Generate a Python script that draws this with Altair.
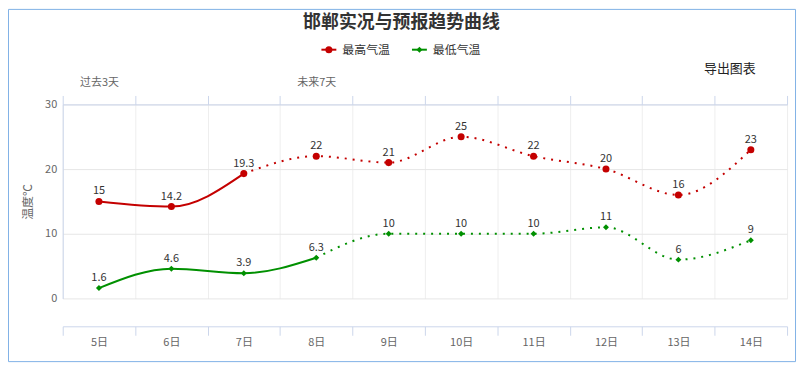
import json
import altair as alt
import pandas as pd

# ---------------- data ----------------
DAYS = ["5日", "6日", "7日", "8日", "9日", "10日", "11日", "12日", "13日", "14日"]
T_MAX = [15, 14.2, 19.3, 22, 21, 25, 22, 20, 16, 23]
T_MIN = [1.6, 4.6, 3.9, 6.3, 10, 10, 10, 11, 6, 9]
SERIES = ["最高气温", "最低气温"]
COLORS = ["#c40000", "#009000"]
SHAPES = ["circle", "diamond"]
MARK_SIZES = [50, 36]
SOLID_UNTIL = [2, 3]          # last observed (solid line) index per series
TOP_LABELS = ["过去3天", "未来7天"]
TOP_LABEL_AT = [0, 3]
Y_TICKS = [0, 10, 20, 30]
TITLE = "邯郸实况与预报趋势曲线"
EXPORT_TEXT = "导出图表"
Y_TITLE = "温度℃"

FONT = "Noto Sans CJK SC"
W, H = 728, 195
N = len(DAYS)
BOUNDS = [k - 0.5 for k in range(N + 1)]

rows = []
for s, vals, last in zip(SERIES, [T_MAX, T_MIN], SOLID_UNTIL):
    for i, v in enumerate(vals):
        rows.append(dict(i=i, v=v, series=s, label=f"{v:g}",
                         solid=bool(i <= last), dotted=bool(i >= last)))
df = pd.DataFrame(rows)

xscale = alt.Scale(domain=[-0.5, N - 0.5], nice=False, zero=False)
yscale = alt.Scale(domain=[0, 30], nice=False, zero=False)
cscale = alt.Scale(domain=SERIES, range=COLORS)

boundary_cond = lambda on, off: {"condition": {"test": "datum.value % 1 !== 0", "value": on}, "value": off}

bottom_axis = alt.Axis(
    orient="bottom",
    values=sorted(BOUNDS + list(range(N))),
    labelExpr=f"datum.value % 1 === 0 ? {json.dumps(DAYS, ensure_ascii=False)}[datum.value] : ''",
    offset=28, tickSize=9, tickColor="#ccd6eb", tickOpacity=boundary_cond(1, 0),
    grid=True, gridColor="#eeeeee", gridOpacity=boundary_cond(1, 0),
    domainColor="#ccd6eb", labelPadding=1, labelFontSize=11, labelColor="#666666",
    labelFont=FONT, title=None, labelAngle=0, labelFlush=False, labelOverlap=False,
    labelBound=False,
)

top_axis = alt.Axis(
    orient="top",
    values=sorted(BOUNDS + TOP_LABEL_AT),
    labelExpr=(f"indexof({json.dumps(TOP_LABEL_AT)}, datum.value) >= 0 ? "
               f"{json.dumps(TOP_LABELS, ensure_ascii=False)}[indexof({json.dumps(TOP_LABEL_AT)}, datum.value)] : ''"),
    tickSize=9, tickColor="#ccd6eb", tickOpacity=boundary_cond(1, 0),
    grid=False, domainColor="#ccd6eb", labelPadding=8, labelFontSize=11,
    labelColor="#666666", labelFont=FONT, title=None, labelAngle=0,
    labelFlush=False, labelOverlap=False, labelBound=False,
)

y_axis = alt.Axis(
    values=Y_TICKS, grid=True, gridColor="#e6e6e6", domain=True, domainColor="#ccd6eb",
    ticks=False, labelPadding=6, labelColor="#666666", labelFontSize=11, labelFont=FONT,
    title=Y_TITLE, titleColor="#666666", titleFontSize=12, titleFontWeight="normal",
    titleFont=FONT, titlePadding=10,
)

base = alt.Chart(df)
Y = alt.Y("v:Q", scale=yscale, axis=y_axis)
X_none = alt.X("i:Q", scale=xscale, axis=None)

line_solid = base.transform_filter("datum.solid").mark_line(
    strokeWidth=2, interpolate="monotone"
).encode(
    x=alt.X("i:Q", scale=xscale, axis=bottom_axis), y=Y,
    color=alt.Color("series:N", scale=cscale, legend=None),
    detail="series:N",
)

line_dotted = base.transform_filter("datum.dotted").mark_line(
    strokeWidth=2, interpolate="monotone", strokeDash=[2, 6]
).encode(
    x=X_none, y=Y,
    color=alt.Color("series:N", scale=cscale, legend=None),
    detail="series:N",
)

points = base.mark_point(filled=True, opacity=1).encode(
    x=X_none, y=Y,
    color=alt.Color("series:N", scale=cscale, legend=None),
    shape=alt.Shape("series:N", scale=alt.Scale(domain=SERIES, range=SHAPES), legend=None),
    size=alt.Size("series:N", scale=alt.Scale(domain=SERIES, range=MARK_SIZES), legend=None),
)

labels = base.mark_text(dy=-10, baseline="middle", fontSize=11, color="#333333", font=FONT).encode(
    x=alt.X("i:Q", scale=xscale, axis=top_axis), y=Y, text="label:N",
)

one = alt.Chart(pd.DataFrame({"k": [0]}))

title = one.mark_text(text=TITLE, fontSize=18, fontWeight="bold", color="#333333",
                      font=FONT, align="center", baseline="middle").encode(
    x=alt.value(340.5), y=alt.value(-82))

export = one.mark_text(text=EXPORT_TEXT, fontSize=13, color="#222222", font=FONT,
                       align="center", baseline="middle").encode(
    x=alt.value(670.5), y=alt.value(-36))

# legend
leg_layers = []
leg_x = [260, 351]
for k, s in enumerate(SERIES):
    x0 = leg_x[k]
    leg_layers.append(one.mark_rule(color=COLORS[k], strokeWidth=2).encode(
        x=alt.value(x0), x2=alt.value(x0 + 15), y=alt.value(-55)))
    leg_layers.append(one.mark_point(filled=True, opacity=1, color=COLORS[k],
                                     shape=SHAPES[k], size=MARK_SIZES[k]).encode(
        x=alt.value(x0 + 7.5), y=alt.value(-55)))
    leg_layers.append(one.mark_text(text=s, fontSize=12, color="#333333", font=FONT,
                                    align="left", baseline="middle").encode(
        x=alt.value(x0 + 21), y=alt.value(-55)))

border = one.mark_rect(fill="transparent", stroke="#80b1e6", strokeWidth=1).encode(
    x=alt.value(-54.5), x2=alt.value(736.5), y=alt.value(-95.5), y2=alt.value(258.5))

chart = alt.layer(
    border, line_solid, line_dotted, points, labels, title, export, *leg_layers
).resolve_axis(x="independent").properties(
    width=W, height=H,
    autosize=alt.AutoSizeParams(type="none"),
    padding={"left": 55, "top": 96, "right": 12, "bottom": 65},
    background="white",
).configure_view(stroke=None)

chart.save("out.html", embed_options={"renderer": "svg", "actions": False})
